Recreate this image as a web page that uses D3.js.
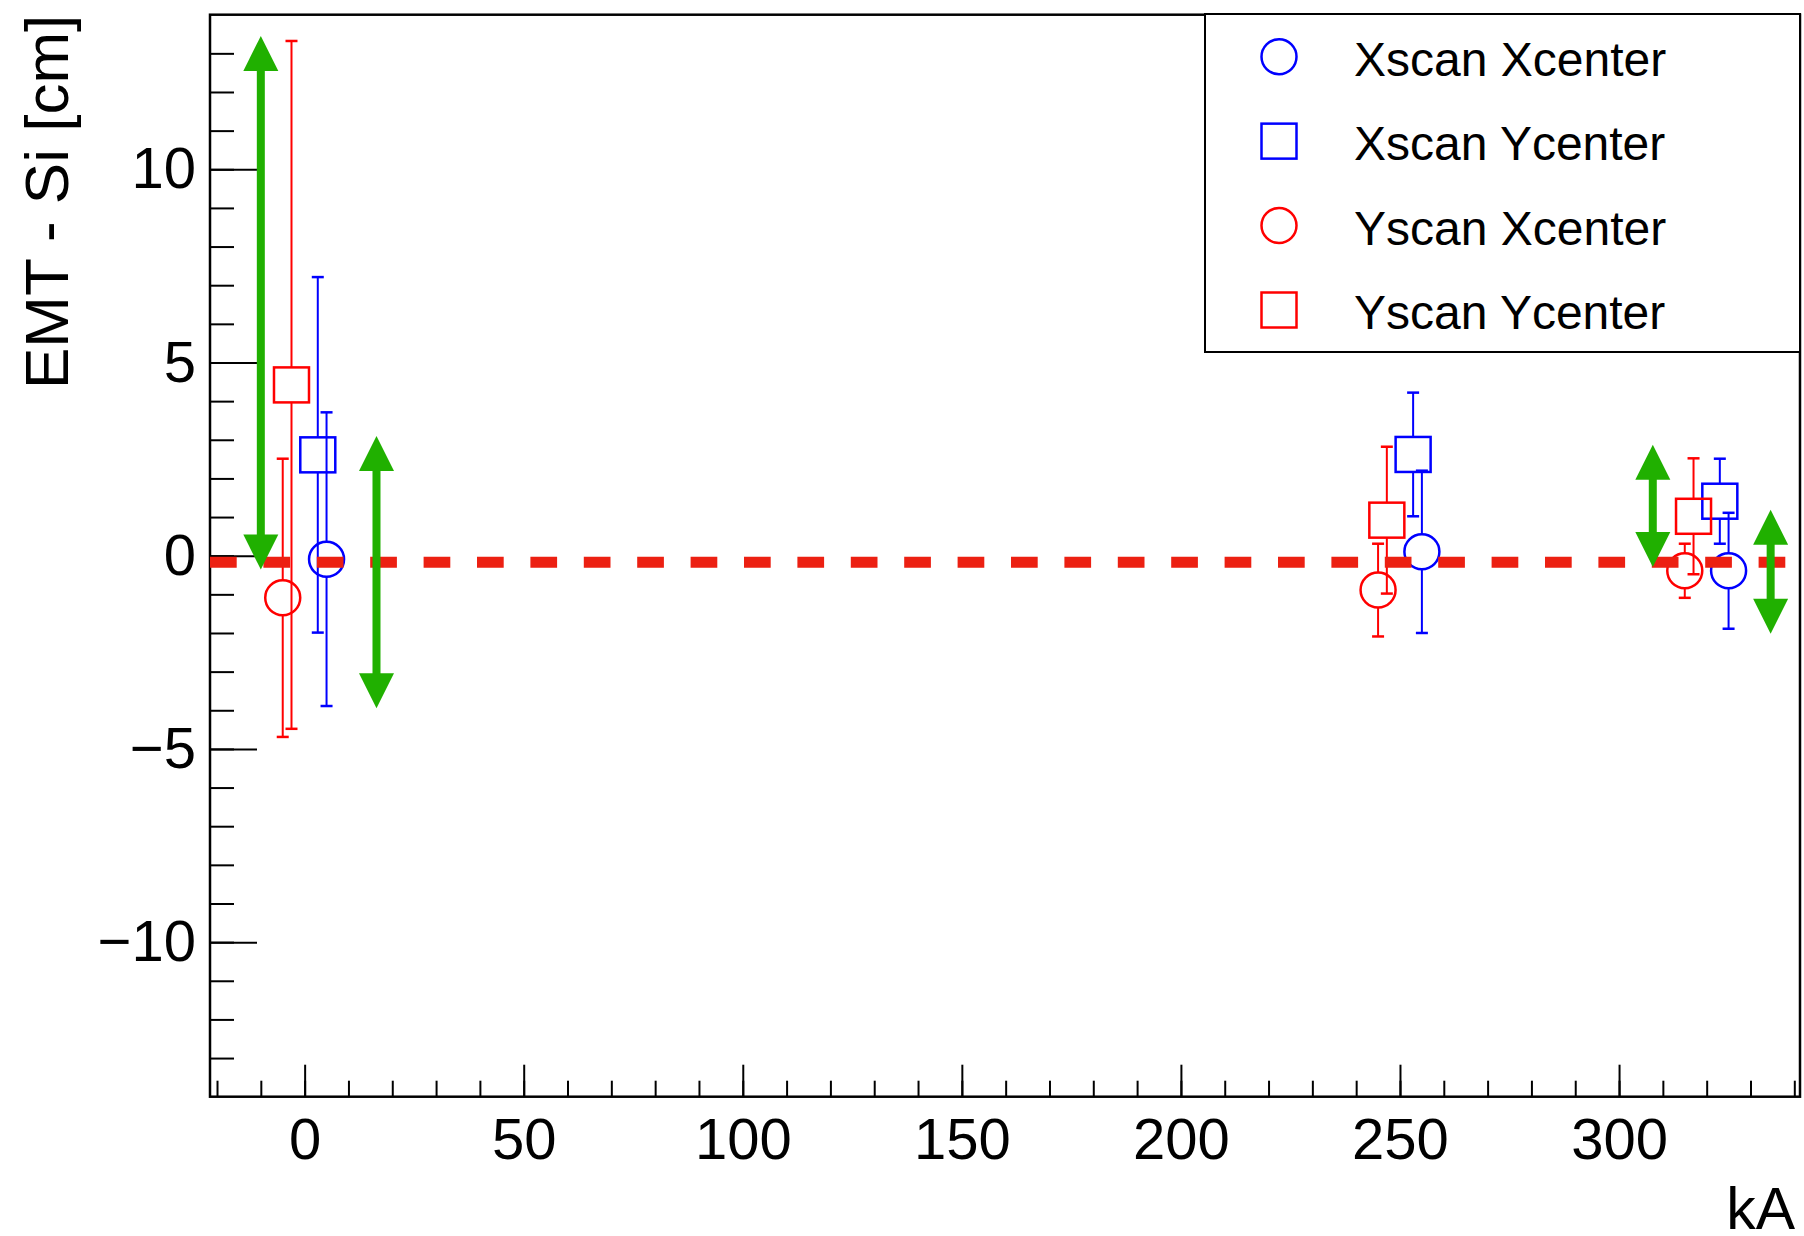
<!DOCTYPE html>
<html>
<head>
<meta charset="utf-8">
<script src="https://cdn.jsdelivr.net/npm/d3@7"></script>
<style>
  html, body { margin: 0; padding: 0; background: #fff; }
  svg { display: block; font-family: "Liberation Sans", Arial, Helvetica, sans-serif; }
</style>
</head>
<body>
<svg id="chart" width="1804" height="1236"></svg>
<script>
// ---- data ----
const seriesNames = ["Xscan Xcenter", "Xscan Ycenter", "Yscan Xcenter", "Yscan Ycenter"];
const seriesColors = ["#0000ff", "#0000ff", "#ff0000", "#ff0000"];
const seriesShapes = ["circle", "square", "circle", "square"];

const xscanXcenterX = [5, 255, 325];
const xscanXcenterY = [-0.09, 0.10, -0.39];
const xscanXcenterErr = [3.8, 2.1, 1.5];

const xscanYcenterX = [3, 253, 323];
const xscanYcenterY = [2.61, 2.62, 1.41];
const xscanYcenterErr = [4.6, 1.6, 1.1];

const yscanXcenterX = [-5, 245, 315];
const yscanXcenterY = [-1.09, -0.89, -0.39];
const yscanXcenterErr = [3.6, 1.2, 0.7];

const yscanYcenterX = [-3, 247, 317];
const yscanYcenterY = [4.42, 0.92, 1.02];
const yscanYcenterErr = [8.9, 1.9, 1.5];

// green double arrows
const arrowX = [-10, 16.4, 307.7, 334.6];
const arrowYLow = [-0.36, -3.95, -0.29, -2.02];
const arrowYHigh = [13.45, 3.1, 2.87, 1.19];

// reference line
const refLineY = -0.17;

// axes
const xDomain = [-21.6, 341.3];
const yDomain = [-14, 14];
const xMajorTicks = [0, 50, 100, 150, 200, 250, 300];
const xMinorTicks = d3.range(-20, 341, 10);
const yMajorTicks = [-10, -5, 0, 5, 10];
const yMinorTicks = d3.range(-13, 14, 1);
const xTitle = "kA";
const yTitle = "EMT - Si [cm]";

// ---- layout ----
const svg = d3.select("#chart");
const L = 210, R = 1800, T = 14.7, B = 1096.7;
const x = d3.scaleLinear().domain(xDomain).range([L, R]);
const y = d3.scaleLinear().domain(yDomain).range([B, T]);
const FONT = 58;
const fmt = d => (d < 0 ? "\u2212" + Math.abs(d) : String(d));

// minor ticks
svg.append("g").attr("transform", `translate(0,${B})`)
  .call(d3.axisBottom(x).tickValues(xMinorTicks).tickSizeInner(-16).tickSizeOuter(0).tickFormat(""))
  .call(g => g.select(".domain").remove())
  .call(g => g.selectAll("line").attr("stroke", "#000").attr("stroke-width", 2));
svg.append("g").attr("transform", `translate(${L},0)`)
  .call(d3.axisLeft(y).tickValues(yMinorTicks).tickSizeInner(-24).tickSizeOuter(0).tickFormat(""))
  .call(g => g.select(".domain").remove())
  .call(g => g.selectAll("line").attr("stroke", "#000").attr("stroke-width", 2));

// major ticks with labels
svg.append("g").attr("transform", `translate(0,${B})`)
  .call(d3.axisBottom(x).tickValues(xMajorTicks).tickSizeInner(-32).tickSizeOuter(0).tickPadding(21).tickFormat(fmt))
  .call(g => g.select(".domain").remove())
  .call(g => g.selectAll("line").attr("stroke", "#000").attr("stroke-width", 2))
  .call(g => g.selectAll("text").attr("font-size", FONT).attr("fill", "#000")
    .attr("font-family", "'Liberation Sans', Arial, Helvetica, sans-serif"));
svg.append("g").attr("transform", `translate(${L},0)`)
  .call(d3.axisLeft(y).tickValues(yMajorTicks).tickSizeInner(-47).tickSizeOuter(0).tickPadding(14).tickFormat(fmt))
  .call(g => g.select(".domain").remove())
  .call(g => g.selectAll("line").attr("stroke", "#000").attr("stroke-width", 2))
  .call(g => g.selectAll("text").attr("font-size", FONT).attr("fill", "#000")
    .attr("font-family", "'Liberation Sans', Arial, Helvetica, sans-serif"));

// frame
svg.append("rect").attr("x", L).attr("y", T).attr("width", R - L).attr("height", B - T)
  .attr("fill", "none").attr("stroke", "#000").attr("stroke-width", 2.5);

// axis titles
svg.append("text").attr("x", 1795).attr("y", 1229).attr("text-anchor", "end")
  .attr("font-size", 59).attr("fill", "#000").text(xTitle);
svg.append("text").attr("transform", `translate(68,${T}) rotate(-90)`).attr("text-anchor", "end")
  .attr("font-size", 62).attr("fill", "#000").text(yTitle);

// ---- data series ----
const series = [
  { xs: xscanXcenterX, ys: xscanXcenterY, es: xscanXcenterErr },
  { xs: xscanYcenterX, ys: xscanYcenterY, es: xscanYcenterErr },
  { xs: yscanXcenterX, ys: yscanXcenterY, es: yscanXcenterErr },
  { xs: yscanYcenterX, ys: yscanYcenterY, es: yscanYcenterErr },
];
const MS = 17.5; // marker half size
const CAP = 6;

const plot = svg.append("g");
series.forEach((s, i) => {
  const col = seriesColors[i];
  const g = plot.append("g");
  s.xs.forEach((xv, j) => {
    const cx = x(xv), cy = y(s.ys[j]);
    const top = y(s.ys[j] + s.es[j]), bot = y(s.ys[j] - s.es[j]);
    if (top < cy - MS) g.append("line").attr("x1", cx).attr("x2", cx).attr("y1", top).attr("y2", cy - MS)
      .attr("stroke", col).attr("stroke-width", 2);
    if (bot > cy + MS) g.append("line").attr("x1", cx).attr("x2", cx).attr("y1", cy + MS).attr("y2", bot)
      .attr("stroke", col).attr("stroke-width", 2);
    [top, bot].forEach(yy => g.append("line").attr("x1", cx - CAP).attr("x2", cx + CAP)
      .attr("y1", yy).attr("y2", yy).attr("stroke", col).attr("stroke-width", 2.5));
    if (seriesShapes[i] === "circle") {
      g.append("circle").attr("cx", cx).attr("cy", cy).attr("r", MS)
        .attr("fill", "none").attr("stroke", col).attr("stroke-width", 2.5);
    } else {
      g.append("rect").attr("x", cx - MS).attr("y", cy - MS).attr("width", 2 * MS).attr("height", 2 * MS)
        .attr("fill", "none").attr("stroke", col).attr("stroke-width", 2.5);
    }
  });
});

// dashed reference line
svg.append("line").attr("x1", x(xDomain[0])).attr("x2", x(xDomain[1]))
  .attr("y1", y(refLineY)).attr("y2", y(refLineY))
  .attr("stroke", "#ec2012").attr("stroke-width", 11).attr("stroke-dasharray", "26.7,26.7");

// green double arrows
const GREEN = "#20b000";
const HL = 35, HW = 17.5;
arrowX.forEach((xv, i) => {
  const ax = x(xv), yTop = y(arrowYHigh[i]), yBot = y(arrowYLow[i]);
  svg.append("line").attr("x1", ax).attr("x2", ax).attr("y1", yTop + HL - 1).attr("y2", yBot - HL + 1)
    .attr("stroke", GREEN).attr("stroke-width", 8);
  svg.append("path").attr("d", `M${ax},${yTop} L${ax - HW},${yTop + HL} L${ax + HW},${yTop + HL} Z`).attr("fill", GREEN);
  svg.append("path").attr("d", `M${ax},${yBot} L${ax - HW},${yBot - HL} L${ax + HW},${yBot - HL} Z`).attr("fill", GREEN);
});

// ---- legend ----
const LX0 = 1205, LY0 = 14, LX1 = 1800, LY1 = 352;
svg.append("rect").attr("x", LX0).attr("y", LY0).attr("width", LX1 - LX0).attr("height", LY1 - LY0)
  .attr("fill", "#fff").attr("stroke", "#000").attr("stroke-width", 2);
const legendY = d3.scalePoint().domain(seriesNames).range([56.7, 310]);
seriesNames.forEach((name, i) => {
  const my = legendY(name), mx = 1279;
  if (seriesShapes[i] === "circle") {
    svg.append("circle").attr("cx", mx).attr("cy", my).attr("r", MS)
      .attr("fill", "none").attr("stroke", seriesColors[i]).attr("stroke-width", 2.5);
  } else {
    svg.append("rect").attr("x", mx - MS).attr("y", my - MS).attr("width", 2 * MS).attr("height", 2 * MS)
      .attr("fill", "none").attr("stroke", seriesColors[i]).attr("stroke-width", 2.5);
  }
  svg.append("text").attr("x", 1354).attr("y", my + 19).attr("font-size", 48).attr("fill", "#000").text(name);
});
</script>
</body>
</html>
